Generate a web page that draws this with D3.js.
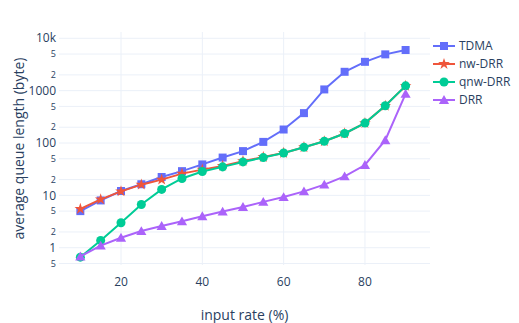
<!DOCTYPE html>
<html><head><meta charset="utf-8">
<script src="https://cdn.jsdelivr.net/npm/d3@7"></script>
<style>body{margin:0;background:#fff}svg{display:block;font-family:"Open Sans",sans-serif}</style>
</head><body><svg id="c" width="519" height="323"></svg>
<script>
const xs = [10,15,20,25,30,35,40,45,50,55,60,65,70,75,80,85,90];
const tdma   = [5,8,12.1,16.3,22.4,29,39,52.7,70,105,181,372,1055,2290,3550,4930,5970];
const nwdrr  = [5.5,8.4,11.9,16,20,26,31,36.5,45,54,64.6,83,108,152,240,514,1235];
const qnwdrr = [0.66,1.38,3.0,6.7,13,21,28.5,35,43.5,52.7,64.6,83,108,152,240,514,1235];
const drr    = [0.68,1.1,1.55,2.08,2.6,3.2,4.0,4.9,6.0,7.5,9.3,11.9,16,23,38,113,870];
const seriesNames = ["TDMA","nw-DRR","qnw-DRR","DRR"];
const colors = ["#636efa","#EF553B","#00cc96","#ab63fa"];
const xTicks = [20,40,60,80];
const yMajor = [1,10,100,1000,10000];
const yMajorLabels = ["1","10","100","1000","10k"];
const yMinor = [0.5,2,5,20,50,200,500,2000,5000];
const yMinorLabels = ["5","2","5","2","5","2","5","2","5"];

const svg = d3.select("#c");
const L=59,R=430,T=32,B=265;
const x = d3.scaleLinear().domain([4.75,96.0]).range([L,R]);
const y = d3.scaleLog().domain([Math.pow(10,-0.33),Math.pow(10,4.12)]).range([B,T]);

const grid = svg.append("g");
xTicks.forEach(v=>grid.append("line").attr("x1",x(v)).attr("x2",x(v)).attr("y1",T).attr("y2",B).attr("stroke","#EBF0F8").attr("stroke-width",1));
yMajor.concat(yMinor).forEach(v=>grid.append("line").attr("x1",L).attr("x2",R).attr("y1",y(v)).attr("y2",y(v)).attr("stroke","#EBF0F8").attr("stroke-width",1));

const tc="#2a3f5f";
xTicks.forEach(v=>svg.append("text").attr("x",x(v)).attr("y",286).attr("text-anchor","middle").attr("font-size",12).attr("fill",tc).text(v));
yMajor.forEach((v,i)=>svg.append("text").attr("x",56).attr("y",y(v)+4.2).attr("text-anchor","end").attr("font-size",12).attr("fill",tc).text(yMajorLabels[i]));
yMinor.forEach((v,i)=>svg.append("text").attr("x",56).attr("y",y(v)+3.2).attr("text-anchor","end").attr("font-size",9).attr("fill",tc).text(yMinorLabels[i]));

svg.append("text").attr("x",(L+R)/2).attr("y",320).attr("text-anchor","middle").attr("font-size",14).attr("fill",tc).text("input rate (%)");
svg.append("text").attr("transform",`translate(24,${(T+B)/2}) rotate(-90)`).attr("text-anchor","middle").attr("font-size",14).attr("fill",tc).text("average queue length (byte)");

const data=[tdma,nwdrr,qnwdrr,drr];
const symbols=[d3.symbolSquare,d3.symbolStar,d3.symbolCircle,d3.symbolTriangle];
const sizes=[64,42,64,45];
const line=d3.line().x((d,i)=>x(xs[i])).y(d=>y(d));
const plot=svg.append("g");
data.forEach((arr,k)=>{
  const g=plot.append("g");
  g.append("path").datum(arr).attr("d",line).attr("fill","none").attr("stroke",colors[k]).attr("stroke-width",2);
  g.selectAll("path.m").data(arr).enter().append("path").attr("class","m")
    .attr("transform",(d,i)=>`translate(${x(xs[i])},${y(d)+(k===3?1:0)})`)
    .attr("d",d3.symbol().type(symbols[k]).size(sizes[k])).attr("fill",colors[k]);
});

const lg=svg.append("g");
seriesNames.forEach((n,k)=>{
  const yy=46+k*18;
  lg.append("line").attr("x1",433).attr("x2",455).attr("y1",yy).attr("y2",yy).attr("stroke",colors[k]).attr("stroke-width",2);
  lg.append("path").attr("transform",`translate(444,${yy+(k===3?1:0)})`).attr("d",d3.symbol().type(symbols[k]).size(sizes[k])).attr("fill",colors[k]);
  lg.append("text").attr("x",459).attr("y",yy+4.3).attr("font-size",12).attr("fill",tc).text(n);
});
</script></body></html>
